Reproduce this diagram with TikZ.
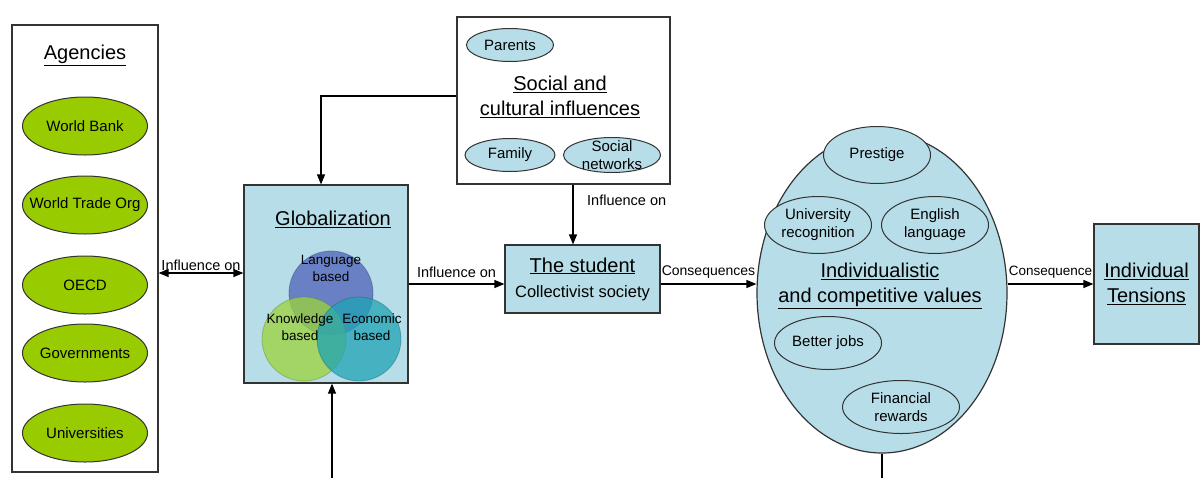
\documentclass[tikz,border=0pt]{standalone}
\usepackage{fontspec}
\setmainfont{Liberation Sans}
\usetikzlibrary{shapes.geometric,arrows.meta,calc}

\definecolor{paleblue}{HTML}{B7DEE8}
\definecolor{agencygreen}{HTML}{99CC00}
\definecolor{outline}{HTML}{333333}
\definecolor{langblue}{HTML}{4F63B8}
\definecolor{knowgreen}{HTML}{9CD33A}
\definecolor{econteal}{HTML}{1FA3B5}

\begin{document}
\begin{tikzpicture}[x=1pt,y=-1pt,
  plainbox/.style={draw=outline, line width=1.2pt, rectangle, fill=white, inner sep=0pt},
  fillbox/.style={draw=outline, line width=1.2pt, rectangle, fill=paleblue, inner sep=0pt},
  agency/.style={ellipse, draw=outline, line width=1pt, fill=agencygreen, inner sep=0pt,
    minimum width=125pt, minimum height=58pt},
  bubble/.style={ellipse, draw=outline, line width=1pt, fill=paleblue, inner sep=0pt},
  title/.style={font=\fontsize{20}{25}\selectfont, align=center, inner sep=0pt},
  eltext/.style={font=\fontsize{15}{18}\selectfont, align=center, inner sep=0pt},
  venntext/.style={font=\fontsize{13.5}{17}\selectfont, align=center, inner sep=0pt},
  lbl/.style={font=\fontsize{14.5}{17}\selectfont, inner sep=1.5pt},
  arr/.style={draw=black, line width=1.2pt, -{Triangle[length=10pt,width=8pt]}},
  dblarr/.style={draw=black, line width=1.2pt, {Triangle[length=10pt,width=8pt]}-{Triangle[length=10pt,width=8pt]}},
  plain/.style={draw=black, line width=1.2pt},
  circ/.style={fill opacity=0.75, draw opacity=0.4, line width=0.8pt}
]
\useasboundingbox (0,0) rectangle (1201,477);
\coordinate (bottomedge) at (0,480);

% ---------- Agencies ----------
\node[plainbox, minimum width=146pt, minimum height=447pt] (agencies) at (85,248.5) {};
\node[title] (agtitle) at (85,55) {\underline{Agencies}};
\node[agency, label={[eltext]center:World Bank}] (wb) at (85,126) {};
\node[agency, label={[eltext]center:World Trade Org}] (wto) at (85,205) {};
\node[agency, label={[eltext]center:OECD}] (oecd) at (85,285) {};
\node[agency, label={[eltext]center:Governments}] (gov) at (85,353) {};
\node[agency, label={[eltext]center:Universities}] (uni) at (85,433) {};

% ---------- Globalization ----------
\node[fillbox, minimum width=164pt, minimum height=198pt] (glob) at (326,284) {};
\node[title] (globtitle) at (333,219) {\underline{Globalization}};
\path[circ, fill=langblue, draw=langblue!60!black] (331,293) circle[radius=42pt];
\path[circ, fill=knowgreen, draw=knowgreen!60!black] (304,339) circle[radius=42pt];
\path[circ, fill=econteal, draw=econteal!60!black] (359,339) circle[radius=42pt];
\node[venntext] (lang) at (331,268) {Language\\based};
\node[venntext] (know) at (300,327) {Knowledge\\based};
\node[venntext] (econ) at (372,327) {Economic\\based};

% ---------- Social and cultural influences ----------
\node[plainbox, minimum width=213pt, minimum height=167pt] (social) at (563.5,100.5) {};
\node[bubble, minimum width=87pt, minimum height=33pt, label={[eltext]center:Parents}] (parents) at (510,45) {};
\node[title] (soctitle) at (560,97) {\underline{Social and}\\\underline{cultural influences}};
\node[bubble, minimum width=90pt, minimum height=33pt, label={[eltext]center:Family}] (family) at (510,155) {};
\node[bubble, minimum width=97pt, minimum height=35pt, label={[eltext]center:Social\\networks}] (snet) at (612,155) {};

% ---------- The student ----------
\node[fillbox, minimum width=155pt, minimum height=68pt, align=center,
      font=\fontsize{16.5}{25}\selectfont] (student) at (582.5,279)
  {{\fontsize{20}{25}\selectfont\underline{The student}}\\Collectivist society};

% ---------- Individualistic and competitive values ----------
\node[bubble, line width=1.2pt, minimum width=250pt, minimum height=320pt] (vals) at (882,293) {};
\node[bubble, minimum width=107pt, minimum height=57pt, label={[eltext]center:Prestige}] (prestige) at (877,155) {};
\node[bubble, minimum width=107pt, minimum height=57pt, label={[eltext]center:University\\recognition}] (unirec) at (818,225) {};
\node[bubble, minimum width=107pt, minimum height=57pt, label={[eltext]center:English\\language}] (english) at (935,225) {};
\node[title] (valstitle) at (880,286) {\underline{Individualistic}\\\underline{and competitive values}};
\node[bubble, minimum width=107pt, minimum height=53pt, label={[eltext]center:Better jobs}] (jobs) at (828,343) {};
\node[bubble, minimum width=117pt, minimum height=53pt, label={[eltext]center:Financial\\rewards}] (fin) at (901,407) {};

% ---------- Individual tensions ----------
\node[fillbox, minimum width=105pt, minimum height=120pt, title] (tensions) at (1146.5,284)
  {\underline{Individual}\\\underline{Tensions}};

% ---------- Connectors ----------
\coordinate (agout) at ([yshift=-24.5pt]agencies.east);
\draw[dblarr] (agout) -- (agout -| glob.west)
  node[lbl, midway, above] {Influence on};

\coordinate (sgout) at ([yshift=4.5pt]social.west);
\coordinate (gtop) at ([xshift=-5pt]glob.north);
\draw[arr] (sgout) -| (gtop);

\coordinate (gbot) at ([xshift=6pt]glob.south);
\draw[arr] (gbot |- bottomedge) -- (gbot);

\draw[arr] (glob.east) -- (glob.east -| student.west)
  node[lbl, midway, above=4pt] {Influence on};

\coordinate (sdown) at ([xshift=9.5pt]social.south);
\draw[arr] (sdown) -- (sdown |- student.north);
\node[lbl, anchor=west, inner sep=0pt] (inflab) at (587,200) {Influence on};

\coordinate (stout) at (student.east |- glob.east);
\draw[arr] (stout) -- (stout -| vals.west)
  node[lbl, midway, above=4pt, font=\fontsize{14}{17}\selectfont] {Consequences};

\draw[arr] (tensions.west -| vals.east) -- (tensions.west)
  node[lbl, midway, above=4pt, font=\fontsize{13.5}{17}\selectfont] {Consequence};

\draw[plain] (vals.south) -- (vals.south |- bottomedge);
\end{tikzpicture}
\end{document}
